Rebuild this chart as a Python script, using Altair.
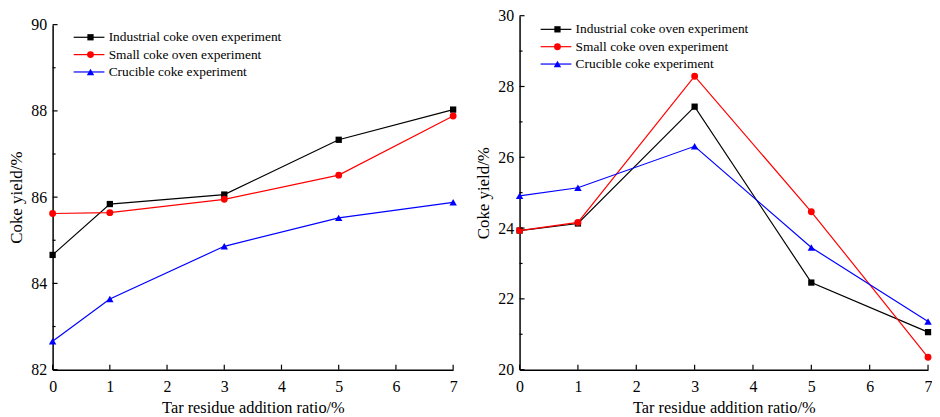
import altair as alt
import pandas as pd

x_vals = [0, 1, 3, 5, 7]
series = ["Industrial coke oven experiment", "Small coke oven experiment", "Crucible coke experiment"]
left_industrial = [84.66, 85.84, 86.06, 87.33, 88.03]
left_small = [85.62, 85.64, 85.95, 86.51, 87.88]
left_crucible = [82.66, 83.64, 84.86, 85.52, 85.88]
right_industrial = [23.93, 24.13, 27.43, 22.46, 21.06]
right_small = [23.93, 24.16, 28.29, 24.46, 20.35]
right_crucible = [24.91, 25.14, 26.31, 23.45, 21.36]

x_ticks = [0, 1, 2, 3, 4, 5, 6, 7]
left_major = [82, 84, 86, 88, 90]
left_minor = [83, 85, 87, 89]
right_major = [20, 22, 24, 26, 28, 30]
right_minor = [21, 23, 25, 27, 29]
colors = ["#000000", "#ff0000", "#0000ff"]
shapes = ["square", "circle", "triangle-up"]
marker_sizes = [40, 56, 56]

FONT = "Liberation Serif"
LINE_PATH = "M-3.1,0H3.1"   # drawn 31px long with symbolSize 100
LINE_SIZE = 100
PT_SYM = 50


def panel(vals, ymin, ymax, major, minor, width, height, yrange, leg_start, leg_y):
    rows = []
    for i, (s, v) in enumerate(zip(series, vals)):
        for x, y in zip(x_vals, v):
            rows.append({"x": x, "y": y, "series": s, "marker": i})
    df = pd.DataFrame(rows)
    xs = alt.Scale(domain=[0, 7], nice=False, zero=False)
    ys = alt.Scale(domain=[ymin, ymax], nice=False, zero=False, range=yrange)
    xax = alt.Axis(values=x_ticks, title="Tar residue addition ratio/%", ticks=False,
                   labelPadding=9, titlePadding=5, format="d",
                   labelFont=FONT, titleFont=FONT, labelFontSize=16, titleFontSize=16.5)
    yax = alt.Axis(values=major, title="Coke yield/%", ticks=False,
                   labelPadding=6, titlePadding=5, format="d",
                   labelFont=FONT, titleFont=FONT, labelFontSize=16, titleFontSize=17)
    r = (LINE_SIZE ** 0.5) / 2
    center = leg_start + 15.3
    line_leg_x = center - r
    pt_leg_x = center - (PT_SYM ** 0.5) / 2
    lines = alt.Chart(df).mark_line(strokeWidth=1.2).encode(
        x=alt.X("x:Q", scale=xs, axis=xax),
        y=alt.Y("y:Q", scale=ys, axis=yax),
        stroke=alt.Stroke("series:N", scale=alt.Scale(domain=series, range=colors),
                          legend=alt.Legend(orient="none", legendX=line_leg_x, legendY=leg_y, title=None,
                                            symbolType=LINE_PATH, symbolSize=LINE_SIZE,
                                            symbolStrokeWidth=1.2, labelFont=FONT, labelFontSize=13.5,
                                            labelColor="black", labelLimit=400, rowPadding=2.5,
                                            labelOffset=15.5 + 2.5 - r, padding=0)),
    )
    pt_legend = alt.Legend(orient="none", legendX=pt_leg_x, legendY=leg_y, title=None,
                           symbolSize=PT_SYM, symbolStrokeWidth=0, labelFont=FONT,
                           labelFontSize=13.5, labelOpacity=0, labelLimit=400,
                           rowPadding=2.5, labelOffset=4, padding=0)
    pts = alt.Chart(df).mark_point(filled=True, opacity=1, strokeWidth=0).encode(
        x=alt.X("x:Q", scale=xs, axis=xax),
        y=alt.Y("y:Q", scale=ys, axis=yax),
        shape=alt.Shape("marker:N", scale=alt.Scale(domain=[0, 1, 2], range=shapes), legend=pt_legend),
        color=alt.Color("marker:N", scale=alt.Scale(domain=[0, 1, 2], range=colors), legend=pt_legend),
        size=alt.Size("marker:N", scale=alt.Scale(domain=[0, 1, 2], range=marker_sizes), legend=None),
    )
    xt = alt.Chart(pd.DataFrame({"t": x_ticks})).mark_tick(
        orient="vertical", size=5, thickness=1.2, yOffset=-2.5, color="black", opacity=1
    ).encode(x=alt.X("t:Q", scale=xs, axis=xax), y=alt.datum(ymin))
    ytm = alt.Chart(pd.DataFrame({"t": major})).mark_tick(
        orient="horizontal", size=5, thickness=1.2, xOffset=2.5, color="black", opacity=1
    ).encode(y=alt.Y("t:Q", scale=ys, axis=yax), x=alt.datum(0))
    ytn = alt.Chart(pd.DataFrame({"t": minor})).mark_tick(
        orient="horizontal", size=3, thickness=1.2, xOffset=1.5, color="black", opacity=1
    ).encode(y=alt.Y("t:Q", scale=ys, axis=yax), x=alt.datum(0))
    return alt.layer(lines, pts, xt, ytm, ytn).properties(width=width, height=height)


H = 357
left = panel([left_industrial, left_small, left_crucible], 82, 90, left_major, left_minor,
             404, H, [H, 9], 19.7, 15)
right = panel([right_industrial, right_small, right_crucible], 20, 30, right_major, right_minor,
              412, H, [H, 0], 19.7, 7)

chart = alt.hconcat(left, right, spacing=67, bounds="flush").resolve_scale(
    color="independent", shape="independent", stroke="independent", size="independent"
).resolve_legend(
    color="independent", shape="independent", stroke="independent", size="independent"
).properties(
    padding={"left": 0, "top": -2, "right": 0, "bottom": 0}
).configure_view(stroke=None).configure_axis(
    grid=False, domainColor="black", domainWidth=1.5, labelFont=FONT, labelFontSize=16,
    labelColor="black", titleFont=FONT, titleFontSize=16.5, titleFontWeight="normal",
    titleColor="black", labelFlush=False, labelOverlap=False
)

chart.save("out.html", embed_options={"renderer": "svg", "actions": False})
